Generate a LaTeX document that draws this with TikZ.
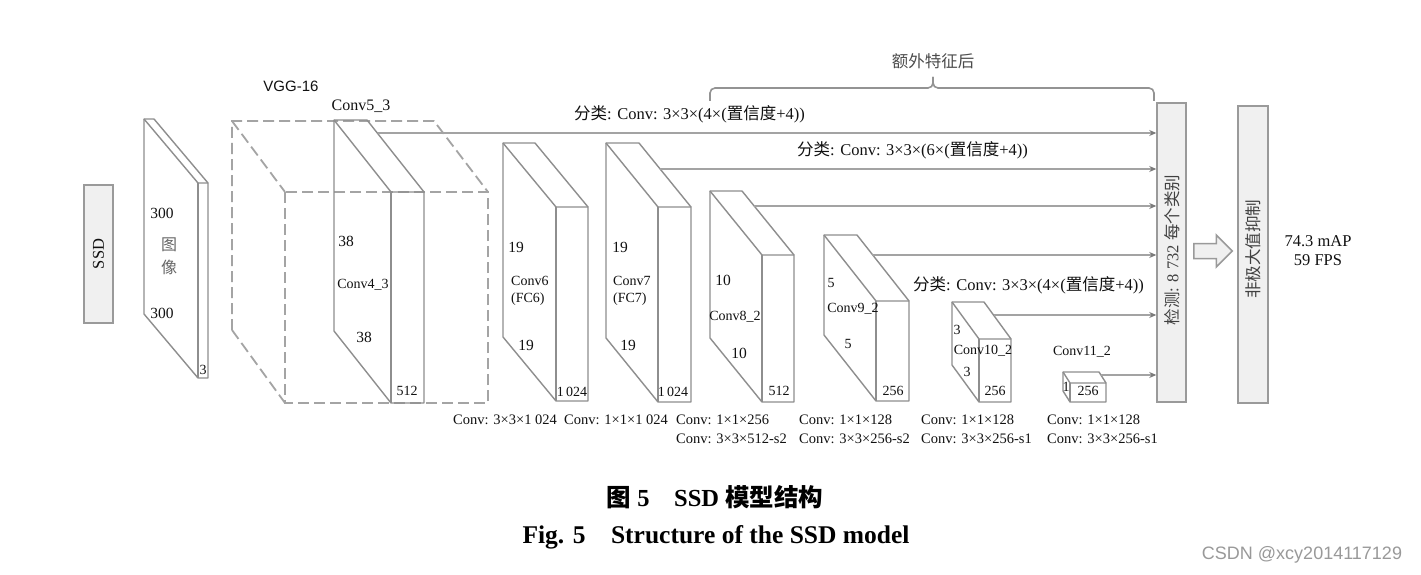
\documentclass[tikz,border=0pt]{standalone}
\usepackage{fontspec}
\usepackage{graphicx}
\setmainfont{Liberation Serif}
\newfontfamily\cjk{Noto Sans CJK SC}
\newfontfamily\wmfont{Liberation Sans}
\usetikzlibrary{arrows.meta,decorations.pathreplacing,calc}
\definecolor{slabgray}{HTML}{8E8E8E}
\definecolor{arrgray}{HTML}{A3A3A3}
\definecolor{tipgray}{HTML}{7A7A7A}
\definecolor{boxfill}{HTML}{F0F0F0}
\definecolor{boxline}{HTML}{9A9A9A}
\definecolor{txt}{HTML}{111111}
\newcommand{\myfs}[1]{\fontsize{#1}{#1}\selectfont}
\newcommand{\drawslab}[6]{%
  \draw[slabline] (#1,#2) -- ++(#3,0) -- ++(#4,#5) -- ++(0,#6) -- ++(-#3,0) -- ++(-#4,-#5) -- cycle;
  \draw[slabline] (#1,#2) -- ++(#4,#5) -- ++(#3,0);
  \draw[slabline] (#1+#4,#2+#5) -- ++(0,#6);
}
\tikzset{
  slabline/.style={draw=slabgray, line width=1.4pt, line join=round},
  dashline/.style={draw=boxline!90, line width=1.8pt, dash pattern=on 11pt off 5pt},
  arr/.style={draw=arrgray, line width=2pt, -{Stealth[length=7pt,width=6pt,color=tipgray]}},
  graybox/.style={draw=boxline, fill=boxfill, line width=1.5pt, inner sep=0pt},
  numlbl/.style={font=\myfs{15.5}, text=txt, inner sep=0pt},
  convlbl/.style={font=\myfs{14}, text=txt, inner sep=0pt},
  botlbl/.style={font=\myfs{14.5}, text=txt, inner sep=0pt, anchor=mid west},
  toplbl/.style={font=\myfs{16.5}, text=txt, inner sep=0pt},
  rotlbl/.style={font=\myfs{16.5}, text=black!75, inner sep=0pt, rotate=90},
  braceline/.style={draw=arrgray!90!black, line width=1.6pt, rounded corners=5pt},
}
\begin{document}
\begin{tikzpicture}[x=1pt,y=-1pt]
\useasboundingbox[fill=white] (0,0) rectangle (1421,575);

% SSD box
\node[graybox, minimum width=29pt, minimum height=138pt] (ssd) at (98.5,254) {};
\node[rotlbl, font=\myfs{16.5}, text=txt] (ssdt) at (ssd.center) {SSD};

% image slab
\drawslab{144}{119}{10}{54}{64}{195}
\node[numlbl] (i300a) at (162,213) {300};
\node[toplbl, text=black!60, font=\myfs{16}] (imga) at (169,245) {\cjk 图};
\node[toplbl, text=black!60, font=\myfs{16}] (imgb) at (169,267) {\cjk 像};
\node[numlbl] (i300b) at (162,313) {300};
\node[numlbl, font=\myfs{14}] (i3) at (203,370) {3};

% VGG-16 dashed box
\draw[dashline] (232,330) -- (232,121) -- (434,121) -- (488,192);
\draw[dashline] (232,121) -- (285,192);
\draw[dashline] (232,330) -- (285,403);
\draw[dashline] (285,192) rectangle (488,403);
\node[font=\myfs{15}, inner sep=0pt, text=txt] (vgg) at (291,86) {\wmfont VGG-16};

% Conv4_3
\drawslab{334}{120}{33}{57}{72}{211}
\node[toplbl, font=\myfs{16}] (c53) at (361,106) {Conv5\_3};
\node[numlbl] (c43a) at (346,241) {38};
\node[convlbl] (c43) at (363,285) {Conv4\_3};
\node[numlbl] (c43b) at (364,337) {38};
\node[convlbl] (c43c) at (407,391) {512};

% Conv6
\drawslab{503}{143}{32}{53}{64}{194}
\node[numlbl] (c6a) at (516,247) {19};
\node[convlbl, anchor=mid west] (c6) at (511,283) {Conv6};
\node[convlbl, anchor=mid west] (c6f) at (511,300) {(FC6)};
\node[numlbl] (c6b) at (526,345) {19};
\node[convlbl] (c6c) at (572,392) {1\,024};

% Conv7
\drawslab{606}{143}{33}{52}{64}{195}
\node[numlbl] (c7a) at (620,247) {19};
\node[convlbl, anchor=mid west] (c7) at (613,283) {Conv7};
\node[convlbl, anchor=mid west] (c7f) at (613,300) {(FC7)};
\node[numlbl] (c7b) at (628,345) {19};
\node[convlbl] (c7c) at (673,392) {1\,024};

% Conv8_2
\drawslab{710}{191}{32}{52}{64}{147}
\node[numlbl] (c8a) at (723,280) {10};
\node[convlbl] (c8) at (735,317) {Conv8\_2};
\node[numlbl] (c8b) at (739,353) {10};
\node[convlbl] (c8c) at (779,391) {512};

% Conv9_2
\drawslab{824}{235}{33}{52}{66}{100}
\node[numlbl, font=\myfs{14}] (c9a) at (831,283) {5};
\node[convlbl] (c9) at (853,309) {Conv9\_2};
\node[numlbl, font=\myfs{14}] (c9b) at (848,344) {5};
\node[convlbl] (c9c) at (893,391) {256};

% Conv10_2
\drawslab{952}{302}{32}{27}{37}{63}
\node[numlbl, font=\myfs{14}] (c10a) at (957,330) {3};
\node[convlbl] (c10) at (983,351) {Conv10\_2};
\node[numlbl, font=\myfs{14}] (c10b) at (967,372) {3};
\node[convlbl] (c10c) at (995,391) {256};

% Conv11_2
\drawslab{1063}{372}{36}{7}{11}{19}
\node[convlbl] (c11) at (1082,352) {Conv11\_2};
\node[numlbl, font=\myfs{14}] (c11a) at (1066,387) {1};
\node[convlbl] (c11c) at (1088,391) {256};

% detection box and NMS box
\node[graybox, minimum width=29pt, minimum height=299pt] (det) at (1171.5,252.5) {};
\node[rotlbl] (dett) at (1172,250) {{\cjk 检测}: 8 732 {\cjk 每个类别}};
\node[graybox, minimum width=30pt, minimum height=297pt] (nms) at (1253,254.5) {};
\node[rotlbl] (nmst) at (1253,249) {\cjk 非极大值抑制};

% arrows to detection
\coordinate (s1) at (378,133);
\coordinate (s2) at (660,169);
\coordinate (s3) at (754,206);
\coordinate (s4) at (872,255);
\coordinate (s5) at (994,315);
\coordinate (s6) at (1101,375);
\foreach \s in {s1,s2,s3,s4,s5,s6}{
  \draw[arr] (\s) -- (\s -| det.west);
}

% hollow arrow
\coordinate (hs) at ($(det.east)+(7,-1.5)$);
\coordinate (he) at ($(nms.west)+(-5,-3.5)$);
\draw[graybox] ($(hs)+(0,-7.5)$) -- ($(he)+(-16,-7.5)$) -- ($(he)+(-16,-16)$) -- (he) -- ($(he)+(-16,16)$) -- ($(he)+(-16,7.5)$) -- ($(hs)+(0,7.5)$) -- cycle;

% classification labels
\node[toplbl, anchor=mid west] (cls1) at (574,117) {{\cjk 分类}: Conv: 3×3×(4×({\cjk 置信度}+4))};
\node[toplbl, anchor=mid west] (cls2) at (797,153) {{\cjk 分类}: Conv: 3×3×(6×({\cjk 置信度}+4))};
\node[toplbl, anchor=mid west] (cls3) at (913,288) {{\cjk 分类}: Conv: 3×3×(4×({\cjk 置信度}+4))};

% brace
\coordinate (bl) at (710,101);
\coordinate (bm) at (933,77);
\coordinate (br) at (1154,101);
\draw[braceline] (bl) -- (bl |- 0,88) -- (bm |- 0,88) -- (bm);
\draw[braceline] (bm) -- (bm |- 0,88) -- (br |- 0,88) -- (br);
\node[toplbl, text=black!70] (extra) at (933,61) {\cjk 额外特征后};

% results
\node[toplbl] (map) at (1318,241) {74.3 mAP};
\node[toplbl] (fps) at (1318,260) {59 FPS};

% bottom labels
\node[botlbl] (b1) at (453,422) {Conv: 3×3×1 024};
\node[botlbl] (b2) at (564,422) {Conv: 1×1×1 024};
\node[botlbl] (b3) at (676,422) {Conv: 1×1×256};
\node[botlbl] (b3b) at (676,441) {Conv: 3×3×512-s2};
\node[botlbl] (b4) at (799,422) {Conv: 1×1×128};
\node[botlbl] (b4b) at (799,441) {Conv: 3×3×256-s2};
\node[botlbl] (b5) at (921,422) {Conv: 1×1×128};
\node[botlbl] (b5b) at (921,441) {Conv: 3×3×256-s1};
\node[botlbl] (b6) at (1047,422) {Conv: 1×1×128};
\node[botlbl] (b6b) at (1047,441) {Conv: 3×3×256-s1};

% caption
\node[font=\myfs{24.5}\bfseries, inner sep=0pt] (cap1) at (715,497) {{\cjk 图} 5\hspace{1em}SSD {\cjk 模型结构}};
\node[font=\myfs{25.5}\bfseries, inner sep=0pt] (cap2) at (716,537) {Fig. 5\hspace{1em}Structure of the SSD model};

% watermark
\node[font=\myfs{18}\wmfont, text=black!40, inner sep=0pt] (wm) at (1302,555) {CSDN @xcy2014117129};
\end{tikzpicture}
\end{document}
